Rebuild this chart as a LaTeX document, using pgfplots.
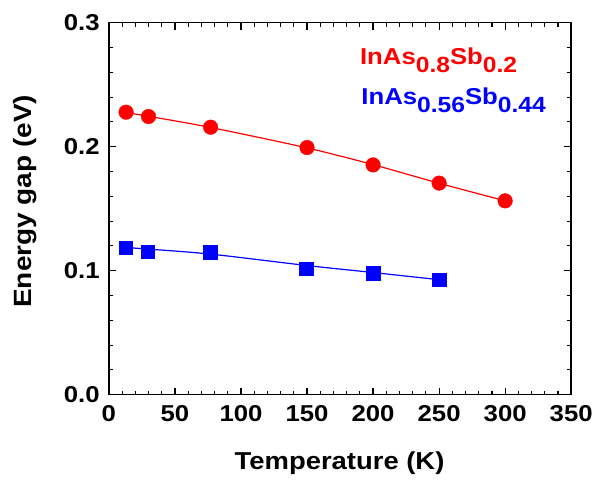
\documentclass[border=0pt]{standalone}
\usepackage{fontspec}
\setmainfont{Liberation Sans}[FakeStretch=1.12]
\usepackage{pgfplots}
\pgfplotsset{compat=1.18}
\newcommand\sub[1]{\raisebox{-8pt}{\fontsize{22}{22}\selectfont #1}}
\begin{document}
\begin{tikzpicture}
\begin{axis}[
  scale only axis, width=462.7pt, height=372.3pt,
  xmin=0, xmax=350, ymin=0, ymax=0.3,
  xtick={0,50,...,350}, ytick={0,0.1,0.2,0.3},
  minor x tick num=4, minor y tick num=4,
  tick align=inside, xtick pos=both, ytick pos=both,
  major tick length=7pt, minor tick length=4pt,
  axis line style={line width=1.6pt},
  major tick style={black, line width=1.2pt},
  minor tick style={black, line width=1.1pt},
  /pgf/number format/assume math mode=true,
  tick label style={font=\fontsize{23}{23}\selectfont\bfseries},
  xticklabel style={anchor=base, yshift=-27pt},
  yticklabel style={anchor=east, inner sep=0pt, xshift=-9pt,
    /pgf/number format/fixed, /pgf/number format/fixed zerofill,
    /pgf/number format/precision=1},
  scaled y ticks=false,
  xlabel={Temperature (K)},
  ylabel={Energy gap (eV)},
  xlabel style={font=\fontsize{24.5}{25}\selectfont\bfseries, at={(axis description cs:0.499,-0.2015)}, anchor=base},
  ylabel style={font=\fontsize{25}{25}\selectfont\bfseries, at={(axis description cs:-0.167,0.52)}, anchor=base},
]
% red fitted line
\addplot[red, line width=1.2pt, smooth] coordinates {
  (13,0.2275) (30,0.2245) (77,0.2155) (150,0.1990) (200,0.1855) (250,0.1705) (300,0.1563)};
\addplot[only marks, mark=*, mark size=7.3pt, mark options={draw=red, fill=red}] coordinates {
  (13,0.2278) (30,0.2243) (77,0.2157) (150,0.1993) (200,0.1853) (250,0.1706) (300,0.1563)};
% blue fitted line
\addplot[blue, line width=1.2pt, smooth] coordinates {
  (12.6,0.1187) (29.5,0.1174) (76.6,0.1134) (149.5,0.1042) (200,0.0985) (250,0.0927)};
\addplot[only marks, mark=square*, mark size=6.7pt, mark options={draw=blue, fill=blue}] coordinates {
  (12.6,0.1187) (29.5,0.1155) (76.6,0.1150) (149.5,0.1018) (200,0.0981) (250,0.0929)};
\node[anchor=base west, inner sep=0pt, text=red, font=\fontsize{23}{23}\selectfont\bfseries]
  at (axis cs:190,0.2659) {InAs\sub{0.8}Sb\sub{0.2}};
\node[anchor=base west, inner sep=0pt, text=blue, font=\fontsize{23}{23}\selectfont\bfseries]
  at (axis cs:191,0.2337) {InAs\sub{0.56}Sb\sub{0.44}};
\end{axis}
\path ([shift={(-109pt,-87pt)}]current axis.south west) rectangle ([shift={(24.3pt,22.7pt)}]current axis.north east);
\end{tikzpicture}
\end{document}
